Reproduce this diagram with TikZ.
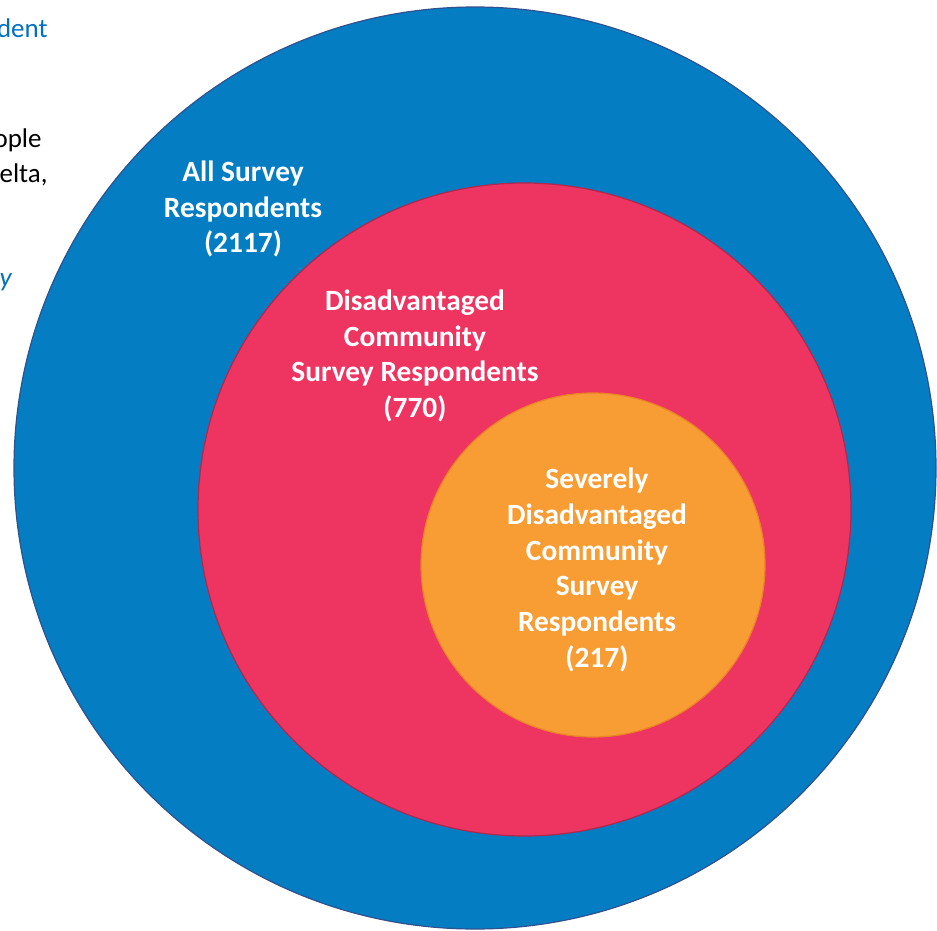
\documentclass[tikz,border=0pt]{standalone}
\usepackage{fontspec}
\setmainfont{Carlito}
\usepackage{tikz}

\definecolor{allblue}{RGB}{4,125,194}
\definecolor{allline}{RGB}{47,82,143}
\definecolor{dacred}{RGB}{238,52,96}
\definecolor{dacline}{RGB}{175,40,80}
\definecolor{sdacorange}{RGB}{248,156,52}
\definecolor{sdacline}{RGB}{236,130,40}
\definecolor{pageblue}{RGB}{0,112,192}

\tikzset{
  ring/.style={circle, inner sep=0pt, line width=0.6pt},
  grouplabel/.style={align=center, text=white, inner sep=0pt,
    font=\bfseries\fontsize{14.7}{17.9}\selectfont},
  pagetext/.style={anchor=base east, inner sep=0pt,
    font=\fontsize{13.5}{16}\selectfont},
}

\begin{document}
\begin{tikzpicture}[x=0.5pt, y=-0.5pt]
  \useasboundingbox (0,0) rectangle (937,931);
  % Surrounding page text
  \node[pagetext, text=pageblue] (pagehead) at (48,38) {dent};
  \node[pagetext] (pageline1) at (42,148) {ople};
  \node[pagetext] (pageline2) at (48,183) {elta,};
  \node[pagetext, text=pageblue, font=\itshape\fontsize{13.5}{16}\selectfont] (pagenote) at (12,286) {y};
  % Nested groups
  \node[ring, draw=allline, fill=allblue, minimum size=461pt] (all) at (475,468) {};
  \node[ring, draw=dacline, fill=dacred, minimum size=326.5pt] (dac) at (524.5,509.5) {};
  \node[ring, draw=sdacline, fill=sdacorange, minimum size=172pt] (sdac) at (593,565) {};
  % Group labels
  \node[grouplabel] (alllabel) at (243,209) {All Survey\\Respondents\\(2117)};
  \node[grouplabel] (daclabel) at (415,356) {Disadvantaged\\Community\\Survey Respondents\\(770)};
  \node[grouplabel] (sdaclabel) at (597,570) {Severely\\Disadvantaged\\Community\\Survey\\Respondents\\(217)};
\end{tikzpicture}
\end{document}
